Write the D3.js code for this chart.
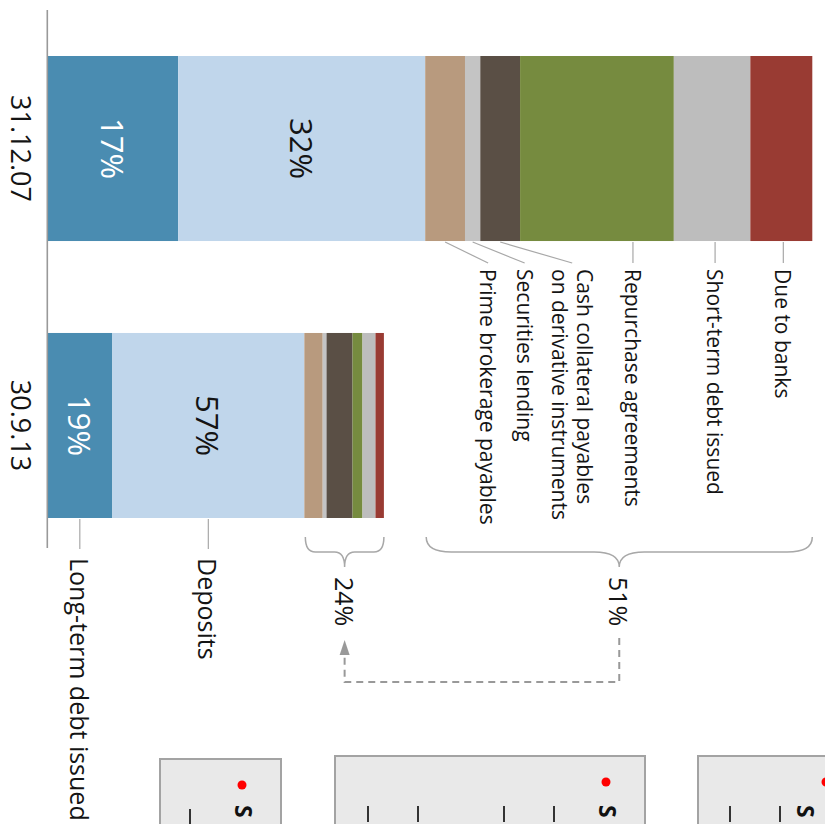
<!DOCTYPE html>
<html><head><meta charset="utf-8">
<script src="https://cdn.jsdelivr.net/npm/d3@7"></script>
<style>
body{margin:0;background:#fff;overflow:hidden}
svg{display:block}
text{font-family:"Open Sans",sans-serif}
</style>
</head><body>
<svg id="c" width="825" height="824"></svg>
<script>
// ---------- DATA ----------
const dates = ["31.12.07", "30.9.13"];
const categories = [
  "Long-term debt issued",
  "Deposits",
  "Prime brokerage payables",
  "Securities lending",
  "Cash collateral payables|on derivative instruments",
  "Repurchase agreements",
  "Short-term debt issued",
  "Due to banks"
];
// balance sheet size, index 31.12.07 = 100
const values2007 = [17.1, 32.3, 5.2, 2.0, 5.2, 20.1, 10.0, 8.1];
const values2013 = [8.5, 25.1, 2.4, 0.5, 3.4, 1.3, 1.7, 1.1];
const colors = ["#4a8cb1", "#c0d6eb", "#b89a7e", "#c4c4c4", "#5a4f45", "#768b3f", "#bdbdbd", "#993b33"];

// ---------- LAYOUT ----------
const svg = d3.select("#c");
const x = d3.scaleLinear().domain([0, 100]).range([47.3, 812.3]);
const y = d3.scaleBand().domain(dates).range([56, 518]).paddingInner(0.332).paddingOuter(0);
const series = [values2007, values2013];

function stackRow(vals) {
  let acc = 0;
  return vals.map((v, i) => { const s = { i, v, x0: acc, x1: acc + v }; acc += v; return s; });
}
const rows = series.map(stackRow);
const totals = series.map(v => d3.sum(v));

const rot = (tx, ty) => `translate(${tx},${ty}) rotate(90)`;
const gray = "#a8a8a8";
const ink = "#141414";

// bars
dates.forEach((d, di) => {
  const g = svg.append("g");
  g.selectAll("rect").data(rows[di]).join("rect")
    .attr("x", s => x(s.x0)).attr("width", s => x(s.x1) - x(s.x0))
    .attr("y", y(d)).attr("height", y.bandwidth())
    .attr("fill", s => colors[s.i]);
  rows[di].slice(0, 2).forEach(s => {
    svg.append("text")
      .attr("transform", rot((x(s.x0) + x(s.x1)) / 2, y(d) + y.bandwidth() / 2))
      .attr("text-anchor", "middle").attr("dominant-baseline", "central")
      .attr("font-size", 31).attr("fill", s.i === 0 ? "#fff" : ink)
      .text(Math.round(s.v / totals[di] * 100) + "%");
  });
  svg.append("text")
    .attr("transform", rot(21, y(d) + y.bandwidth() / 2))
    .attr("text-anchor", "middle").attr("dominant-baseline", "central")
    .attr("font-size", 27).attr("fill", ink).text(d);
});

// baseline axis
svg.append("line").attr("x1", x(0)).attr("x2", x(0)).attr("y1", 10).attr("y2", 548)
  .attr("stroke", "#999").attr("stroke-width", 1.6);

// side labels (bar 1, short-term funding items)
const labelShift = { 2: 43, 3: 52, 4: 72, 5: 36, 6: 3, 7: 2 };
const barBottom = y(dates[0]) + y.bandwidth();
rows[0].slice(2).forEach(s => {
  const cx = (x(s.x0) + x(s.x1)) / 2;
  const lx = cx + labelShift[s.i];
  const inside = lx > x(s.x0) && lx < x(s.x1);
  const sx = inside ? lx : cx;
  svg.append("line").attr("x1", sx).attr("y1", barBottom + 1).attr("x2", lx).attr("y2", barBottom + 22)
    .attr("stroke", gray).attr("stroke-width", 1.2);
  const lines = categories[s.i].split("|");
  lines.forEach((t, k) => {
    const off = (lines.length - 1) * 12.5 - k * 25;
    svg.append("text")
      .attr("transform", rot(lx + off, barBottom + 28))
      .attr("text-anchor", "start").attr("dominant-baseline", "central")
      .attr("font-size", 21).attr("fill", ink).text(t);
  });
});

// bottom labels (bar 2, long-term funding)
const bar2Bottom = y(dates[1]) + y.bandwidth();
rows[1].slice(0, 2).forEach(s => {
  const cx = (x(s.x0) + x(s.x1)) / 2;
  svg.append("line").attr("x1", cx).attr("x2", cx).attr("y1", bar2Bottom + 1).attr("y2", bar2Bottom + 31)
    .attr("stroke", gray).attr("stroke-width", 1.2);
  svg.append("text")
    .attr("transform", rot(cx, bar2Bottom + 40))
    .attr("text-anchor", "start").attr("dominant-baseline", "central")
    .attr("font-size", 25).attr("fill", ink).text(categories[s.i]);
});

// braces over short-term items
function brace(x0, x1, top, depth) {
  const mid = top + depth, tip = top + depth * 2, c = (x0 + x1) / 2;
  const r = Math.max(10, Math.min(28, (x1 - x0) * 0.065));
  return `M${x0},${top} Q${x0},${mid} ${x0 + r},${mid} L${c - r},${mid} Q${c},${mid} ${c},${tip}` +
         ` Q${c},${mid} ${c + r},${mid} L${x1 - r},${mid} Q${x1},${mid} ${x1},${top}`;
}
const braceCenters = [];
rows.forEach((r, di) => {
  const x0 = x(r[2].x0) + 1, x1 = x(r[r.length - 1].x1);
  const top = 537;
  svg.append("path").attr("d", brace(x0, x1, top, 15))
    .attr("fill", "none").attr("stroke", gray).attr("stroke-width", 1.5);
  const c = (x0 + x1) / 2;
  braceCenters.push(c);
  const share = Math.round(d3.sum(r.slice(2), s => s.v) / totals[di] * 100);
  svg.append("text").attr("transform", rot(c, 577))
    .attr("text-anchor", "start").attr("dominant-baseline", "central")
    .attr("font-size", 25).attr("fill", ink).text(share + "%");
});

// dashed arrow from 51% to 24%
const [cA, cB] = braceCenters;
svg.append("path").attr("d", `M${cA},638 V682 H${cB} V655`)
  .attr("fill", "none").attr("stroke", "#999").attr("stroke-width", 2).attr("stroke-dasharray", "7,5");
svg.append("path").attr("d", `M${cB},640 L${cB - 5},655 L${cB + 5},655 Z`).attr("fill", "#999");

// next-figure panels cut off at bottom
const panels = [
  { x0: 160, x1: 281, top: 759, dot: 242, s: 244, ticks: [190] },
  { x0: 335, x1: 645, top: 756, dot: 606, s: 608, ticks: [368, 418, 504, 554] },
  { x0: 698, x1: 880, top: 756, dot: 826, s: 806, ticks: [730, 780] }
];
panels.forEach(p => {
  svg.append("rect").attr("x", p.x0).attr("y", p.top).attr("width", p.x1 - p.x0).attr("height", 100)
    .attr("fill", "#e9e9e9").attr("stroke", "#a3a3a3").attr("stroke-width", 2);
  svg.append("circle").attr("cx", p.dot).attr("cy", p.top + 26).attr("r", 4.5).attr("fill", "#ff0000");
  svg.append("text").attr("transform", rot(p.s, 805))
    .attr("text-anchor", "start").attr("dominant-baseline", "central")
    .attr("font-size", 23).attr("font-weight", "bold").attr("fill", "#111").text("S");
  p.ticks.forEach(t => svg.append("line").attr("x1", t).attr("x2", t)
    .attr("y1", p.top + 50).attr("y2", p.top + 66).attr("stroke", "#333").attr("stroke-width", 2));
});
</script>
</body></html>
